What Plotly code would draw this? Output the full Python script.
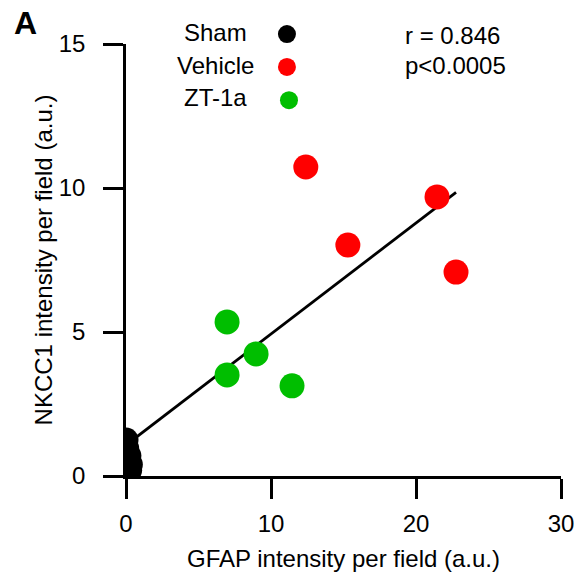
import numpy as np
import plotly.graph_objects as go

# Data
sham_x = [0.0, 0.05, 0.2, 0.3, 0.25]
sham_y = [1.25, 0.95, 0.7, 0.4, 0.2]
vehicle_x = [12.4, 15.3, 21.45, 22.76]
vehicle_y = [10.73, 8.02, 9.69, 7.08]
zt_x = [6.97, 6.97, 8.97, 11.45]
zt_y = [5.35, 3.51, 4.24, 3.13]

group_names = ["Sham", "Vehicle", "ZT-1a"]
group_colors = ["#000000", "#FF0000", "#00BE00"]
stats_text = ["r = 0.846", "p<0.0005"]
x_ticks = [0, 10, 20, 30]
y_ticks = [0, 5, 10, 15]

FONT = "Arial, 'Liberation Sans', sans-serif"

all_x = np.array(sham_x + vehicle_x + zt_x)
all_y = np.array(sham_y + vehicle_y + zt_y)
slope, intercept = np.polyfit(all_x, all_y, 1)
fit_x = np.array([all_x.min(), all_x.max()])
fit_y = slope * fit_x + intercept

fig = go.Figure()
fig.add_trace(go.Scatter(x=fit_x, y=fit_y, mode="lines",
                         line=dict(color="black", width=2.8), showlegend=False, hoverinfo="skip"))
for xs, ys, col, clip in [(sham_x, sham_y, group_colors[0], True),
                          (vehicle_x, vehicle_y, group_colors[1], False),
                          (zt_x, zt_y, group_colors[2], False)]:
    fig.add_trace(go.Scatter(x=xs, y=ys, mode="markers", cliponaxis=clip,
                             marker=dict(color=col, size=25, line=dict(width=0)),
                             showlegend=False))

# manual legend: label text followed by a coloured dot (paper coordinates)
leg_dot_x = [0.370, 0.370, 0.3747]
leg_dot_y = [1.023, 0.9468, 0.870]
leg_text_y = [1.0255, 0.951, 0.877]
shapes = []
annotations = []
for i in range(3):
    shapes.append(dict(type="circle", xref="paper", yref="paper",
                       xsizemode="pixel", ysizemode="pixel",
                       xanchor=leg_dot_x[i], yanchor=leg_dot_y[i],
                       x0=-9, x1=9, y0=-9, y1=9,
                       fillcolor=group_colors[i], line=dict(width=0), layer="above"))
    annotations.append(dict(x=0.2046, y=leg_text_y[i], xref="paper", yref="paper",
                            text=group_names[i], showarrow=False, xanchor="center",
                            yanchor="middle", font=dict(family=FONT, size=24, color="black")))
stat_y = [1.0208, 0.951]
for i in range(2):
    annotations.append(dict(x=0.6368, y=stat_y[i], xref="paper", yref="paper",
                            text=stats_text[i], showarrow=False, xanchor="left",
                            yanchor="middle", font=dict(family=FONT, size=24, color="black")))
annotations.append(dict(x=-0.2299, y=1.0486, xref="paper", yref="paper", text="<b>A</b>",
                        showarrow=False, xanchor="center", yanchor="middle",
                        font=dict(family=FONT, size=32, color="black")))

axis_common = dict(showline=True, linecolor="black", linewidth=2.6, ticks="outside",
                   ticklen=20, tickwidth=2.6, tickcolor="black", showgrid=False,
                   zeroline=False, automargin=False, ticklabeloverflow="allow",
                   tickfont=dict(family=FONT, size=24, color="black"))

fig.update_layout(
    width=574, height=576,
    margin=dict(l=126, r=13, t=44, b=100),
    paper_bgcolor="white", plot_bgcolor="white",
    xaxis=dict(range=[0, 30], tickvals=x_ticks, ticklabelstandoff=4,
               title=dict(text="GFAP intensity per field (a.u.)", standoff=15,
                          font=dict(family=FONT, size=24, color="black")),
               **axis_common),
    yaxis=dict(range=[0, 15], tickvals=y_ticks, ticklabelstandoff=13,
               title=dict(text="NKCC1 intensity per field (a.u.)", standoff=0,
                          font=dict(family=FONT, size=24, color="black")),
               **axis_common),
    shapes=shapes,
    annotations=annotations,
    showlegend=False,
)

# remove the default 8px page margin so the figure fills the window exactly
fig.write_html("out.html", config={"displayModeBar": False},
               post_script="document.body.style.margin='0';document.body.style.overflow='hidden';")
